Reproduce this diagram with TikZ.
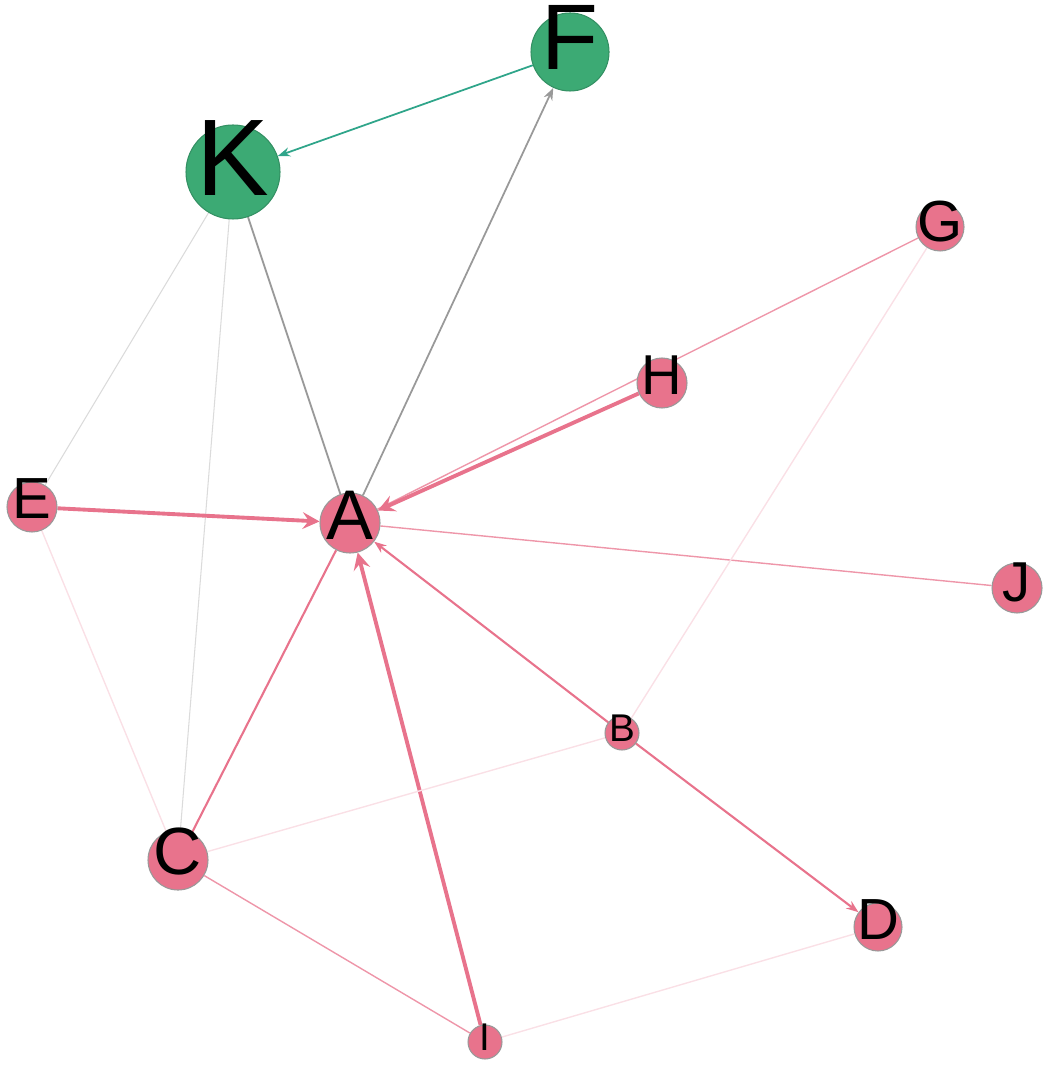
\documentclass[tikz,border=0pt]{standalone}
\usepackage{fontspec}
\setmainfont{Liberation Sans}
\usetikzlibrary{arrows,arrows.meta,backgrounds}
\definecolor{nodepink}{HTML}{E8738C}
\definecolor{nodegreen}{HTML}{3CAA74}
\definecolor{edgeteal}{HTML}{2FA58A}
\tikzstyle{pinknode}=[circle,draw=black!40,fill=nodepink,inner sep=0pt,line width=0.3pt]
\tikzstyle{greennode}=[circle,draw=nodegreen!85!black,fill=nodegreen,inner sep=0pt,line width=0.3pt]
\tikzstyle{strong}=[line width=1.1pt,draw=nodepink,->,>=stealth]
\tikzstyle{medium}=[line width=0.6pt,draw=nodepink]
\tikzstyle{weak}=[line width=0.4pt,draw=nodepink!75]
\tikzstyle{faint}=[line width=0.4pt,draw=nodepink!22]
\tikzstyle{grayedge}=[line width=0.5pt,draw=black!40]
\tikzstyle{lightgray}=[line width=0.3pt,draw=black!14]
\tikzstyle{tealedge}=[line width=0.5pt,draw=edgeteal]
\tikzstyle{smalltip}=[-{Stealth[length=3.5pt,width=2.6pt]}]
\tikzset{letter/.style n args={3}{label={[font=\fontsize{#1}{#1}\selectfont,yshift=#2]center:#3}}}

\begin{document}
\begin{tikzpicture}
\useasboundingbox (0,0) rectangle (10.45,-10.66);
% nodes, sized by degree
\node (F)[greennode,minimum size=0.78cm,letter={26.5}{4pt}{F}] at (5.70,-0.52) {};
\node (K)[greennode,minimum size=0.94cm,letter={31}{4pt}{K}] at (2.33,-1.72) {};
\node (G)[pinknode,minimum size=0.48cm,letter={16.5}{1.5pt}{G}] at (9.40,-2.27) {};
\node (H)[pinknode,minimum size=0.50cm,letter={16}{2.3pt}{H}] at (6.62,-3.83) {};
\node (E)[pinknode,minimum size=0.50cm,letter={16.5}{2.5pt}{E}] at (0.32,-5.07) {};
\node (A)[pinknode,minimum size=0.60cm,letter={20}{2.3pt}{A}] at (3.50,-5.23) {};
\node (J)[pinknode,minimum size=0.50cm,letter={16}{1.5pt}{J}] at (10.17,-5.88) {};
\node (B)[pinknode,minimum size=0.34cm,letter={11}{1.4pt}{B}] at (6.22,-7.33) {};
\node (C)[pinknode,minimum size=0.60cm,letter={19}{2.3pt}{C}] at (1.78,-8.60) {};
\node (D)[pinknode,minimum size=0.48cm,letter={16.5}{2pt}{D}] at (8.78,-9.27) {};
\node (I)[pinknode,minimum size=0.34cm,letter={11}{1.4pt}{I}] at (4.85,-10.42) {};
% edges go under the nodes
\begin{scope}[on background layer]
\draw [tealedge,smalltip] (F) -- (K);
\draw [grayedge,smalltip] (A) -- (F);
\draw [grayedge] (K) -- (A);
\draw [lightgray] (K) -- (E);
\draw [lightgray] (K) -- (C);
\draw [weak] (G) -- (A);
\draw [strong] (H) -- (A);
\draw [strong] (E) -- (A);
\draw [strong] (I) -- (A);
\draw [medium,smalltip] (B) -- (A);
\draw [medium] (A) -- (C);
\draw [weak] (A) -- (J);
\draw [medium,smalltip] (B) -- (D);
\draw [weak] (C) -- (I);
\draw [faint] (G) -- (B);
\draw [faint] (C) -- (B);
\draw [faint] (I) -- (D);
\draw [faint] (E) -- (C);
\end{scope}
\end{tikzpicture}
\end{document}
